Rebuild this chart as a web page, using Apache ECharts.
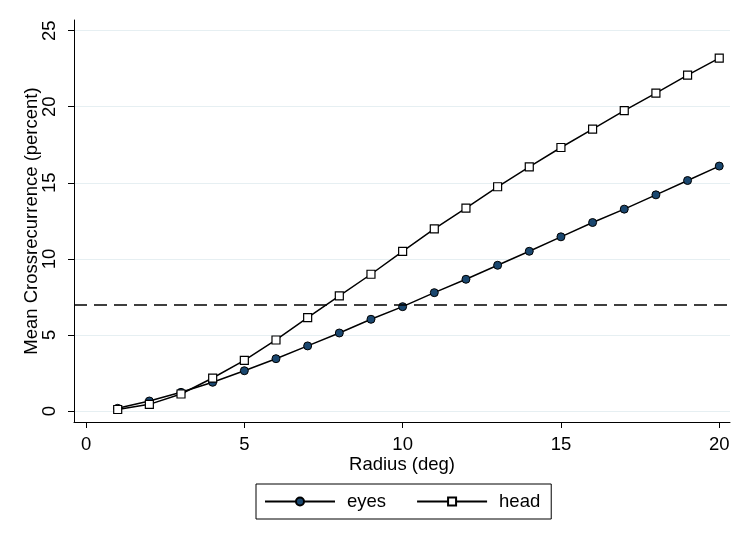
<!DOCTYPE html>
<html>
<head>
<meta charset="utf-8">
<script src="https://cdn.jsdelivr.net/npm/echarts@6/dist/echarts.min.js"></script>
<style>html,body{margin:0;padding:0;background:#fff;}#c{width:750px;height:546px;}</style>
</head>
<body>
<div id="c"></div>
<script>
const radius = [1,2,3,4,5,6,7,8,9,10,11,12,13,14,15,16,17,18,19,20];
const eyes = [0.18,0.66,1.23,1.89,2.65,3.44,4.28,5.13,6.03,6.86,7.78,8.66,9.58,10.5,11.45,12.39,13.27,14.21,15.15,16.1];
const head = [0.1,0.44,1.12,2.17,3.33,4.67,6.14,7.57,8.99,10.5,11.97,13.34,14.74,16.05,17.32,18.53,19.74,20.9,22.08,23.2];
const threshold = 7;
const xTicks = [0,5,10,15,20];
const yTicks = [0,5,10,15,20,25];

const font = '"Liberation Sans", Arial, Helvetica, sans-serif';
const fs = 18.5;
const chart = echarts.init(document.getElementById('c'), null, {renderer:'canvas'});
chart.setOption({
  animation:false,
  backgroundColor:'#fff',
  textStyle:{fontFamily:font,color:'#000'},
  grid:{left:74,right:20,top:20,bottom:124,containLabel:false},
  xAxis:{
    type:'value', min:-0.38, max:20.34,
    name:'Radius (deg)', nameLocation:'middle', nameGap:33, nameMoveOverlap:false,
    nameTextStyle:{fontSize:fs,color:'#000',fontFamily:font},
    axisLine:{show:true,onZero:false,lineStyle:{color:'#000',width:1}},
    axisTick:{show:true,inside:false,length:6,customValues:xTicks,lineStyle:{color:'#000'}},
    axisLabel:{customValues:xTicks,margin:13,fontSize:fs,color:'#000',fontFamily:font},
    splitLine:{show:false}
  },
  yAxis:{
    type:'value', min:-0.72, max:25.7,
    name:'Mean Crossrecurrence (percent)', nameLocation:'middle', nameGap:33, nameMoveOverlap:false,
    nameTextStyle:{fontSize:fs,color:'#000',fontFamily:font},
    axisLine:{show:true,onZero:false,lineStyle:{color:'#000',width:1}},
    axisTick:{show:true,inside:false,length:6,customValues:yTicks,lineStyle:{color:'#000'}},
    axisLabel:{customValues:yTicks,rotate:90,margin:15,fontSize:fs,color:'#000',fontFamily:font},
    splitLine:{show:true,lineStyle:{color:'#e6eff2',width:1}}
  },
  legend:{
    left:256, top:484,
    orient:'horizontal',
    borderColor:'#000', borderWidth:1, borderRadius:0,
    padding:[8,11,8,8],
    itemWidth:70, itemHeight:10, itemGap:30,
    textStyle:{fontSize:fs,color:'#000',fontFamily:font,padding:[0,0,0,7]},
    data:['eyes','head']
  },
  series:[
    {
      name:'eyes', type:'line',
      data:radius.map((r,i)=>[r,eyes[i]]),
      symbol:'circle', symbolSize:8,
      itemStyle:{color:'#1a476f',borderColor:'#000',borderWidth:1},
      lineStyle:{color:'#000',width:1.5},
      markLine:{
        silent:true, symbol:'none', label:{show:false},
        lineStyle:{color:'#000',width:1.5,type:[13,7]},
        data:[{yAxis:threshold}]
      }
    },
    {
      name:'head', type:'line',
      data:radius.map((r,i)=>[r,head[i]]),
      symbol:'rect', symbolSize:8,
      itemStyle:{color:'#fff',borderColor:'#000',borderWidth:1.2},
      lineStyle:{color:'#000',width:1.5}
    }
  ]
});
</script>
</body>
</html>
